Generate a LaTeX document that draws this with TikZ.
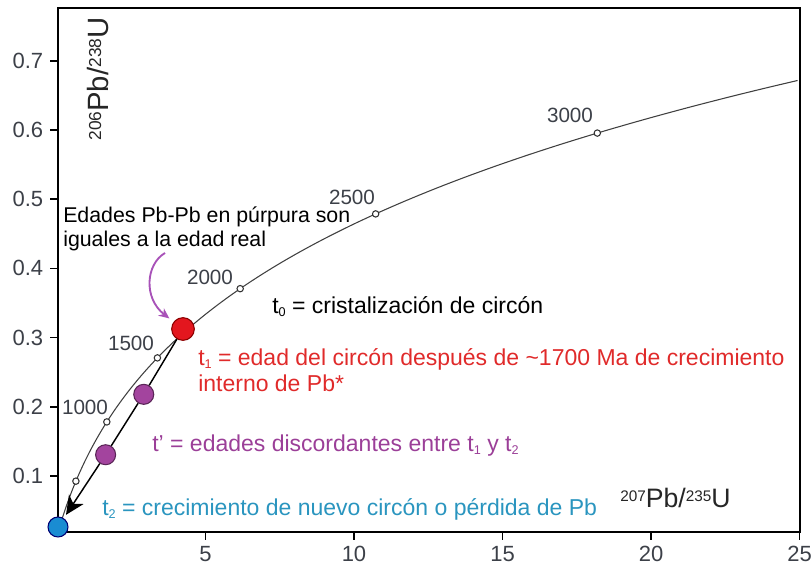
\documentclass[tikz,border=0pt]{standalone}
\usepackage{fontspec}
\setmainfont{Liberation Sans}
\usetikzlibrary{arrows.meta,calc}
\definecolor{tred}{HTML}{E02A2A}
\definecolor{tpurple}{HTML}{9B3F98}
\definecolor{tblue}{HTML}{2A95BF}
\definecolor{dotred}{HTML}{E3161E}
\definecolor{dotpurple}{HTML}{A3449E}
\definecolor{dotblue}{HTML}{1A8CD2}
\definecolor{arrpurple}{HTML}{A852B8}
\definecolor{labgray}{HTML}{3C4048}
\newcommand{\tsb}[1]{\raisebox{-2.2pt}{\fontsize{9.5}{9.5}\selectfont #1}}
\newcommand{\asup}[1]{\raisebox{4.8pt}{\fontsize{11.5}{11.5}\selectfont #1}}
\newcommand{\bsup}[1]{\raisebox{5.2pt}{\fontsize{13}{13}\selectfont #1}}
\begin{document}
\begin{tikzpicture}[x=0.75pt,y=-0.75pt,
  axis/.style={line width=1.3pt, black},
  concordia/.style={line width=0.8pt, black!75},
  agept/.style={circle, draw=black!80, fill=white, line width=0.8pt, inner sep=0pt, minimum size=4.8pt},
  dot/.style={circle, inner sep=0pt, line width=0.8pt},
  agelab/.style={text=labgray, font=\fontsize{15.5}{16}\selectfont, inner sep=0pt},
  ticklab/.style={text=labgray, font=\fontsize{16.5}{17}\selectfont, inner sep=0pt},
  ttext/.style={font=\fontsize{17.25}{19.5}\selectfont, inner sep=0pt, anchor=base west},
  axlab/.style={inner sep=0pt, text=black!85},
]
\useasboundingbox (0,0) rectangle (811,566);
% frame
\draw[axis] (58,8) rectangle (800,532);
% y ticks
\foreach \v in {1,...,7} {
  \coordinate (yt\v) at (58,{545.3-69.23*\v});
  \draw[axis] (yt\v) -- ++(-8,0) node[ticklab, anchor=east, xshift=-4.5pt] (ylab\v) {0.\v};
}
% x ticks
\foreach \v/\k in {5/1,10/2,15/3,20/4,25/5} {
  \coordinate (xt\k) at ({57+29.7*\v},532);
  \draw[axis] (xt\k) -- ++(0,8) node[ticklab, anchor=north, yshift=-3.75pt] (xlab\k) {\v};
}
% concordia
\draw[concordia] plot[domain=0:3.308, samples=150, smooth]
  ({57+29.7*(exp(0.98485*\x)-1)}, {536-680*(exp(0.155125*\x)-1)});
\foreach \t/\n in {0.5/a5,1/a10,1.5/a15,2/a20,2.5/a25,3/a30}
  \node[agept] (\n) at ({57+29.7*(exp(0.98485*\t)-1)}, {536-680*(exp(0.155125*\t)-1)}) {};
\node[agelab] (l10) at (85,407) {1000};
\node[agelab] (l15) at (131,343) {1500};
\node[agelab] (l20) at (210,277) {2000};
\node[agelab] (l25) at (352,197) {2500};
\node[agelab] (l30) at (570,115) {3000};
% dots
\node[dot, fill=dotred, draw=red!55!black, minimum size=17pt] (t1) at (183,329) {};
\node[dot, fill=dotblue, draw=blue!45!black, minimum size=15pt] (t2) at (58,527) {};
\node[dot, fill=dotpurple, draw=dotpurple!55!black, minimum size=15pt] (p1) at ($(t1)!0.33!(t2)+(2,0)$) {};
\node[dot, fill=dotpurple, draw=dotpurple!55!black, minimum size=15pt] (p2) at ($(t1)!0.635!(t2)+(2,0)$) {};
% discordia
\draw[line width=1.1pt] (t1) -- (p1);
\draw[line width=1.1pt] (p1) -- (p2);
\draw[line width=1.1pt, -{Stealth[length=14pt,width=13pt,inset=4pt]}, shorten >=3pt] (p2) -- (t2);
% texts
\node[ttext, font=\fontsize{16}{18}\selectfont] (ed1) at (63,223) {Edades Pb-Pb en púrpura son};
\node[ttext, font=\fontsize{16}{18}\selectfont] (ed2) at (63,247) {iguales a la edad real};
\coordinate (pa) at (165,253);
\draw[arrpurple, line width=1.4pt, -{Stealth[length=8pt,width=7pt]}, shorten >=4pt]
  (pa) .. controls (146,264) and (143,298) .. (t1);
\node[ttext] (tt0) at (272,314) {t\tsb{0} = cristalización de circón};
\node[ttext, text=tred] (tt1) at (198,366) {t\tsb{1} = edad del circón después de \textasciitilde1700 Ma de crecimiento};
\node[ttext, text=tred] (tt1b) at (198,392) {interno de Pb*};
\node[ttext, text=tpurple] (ttp) at (152,452) {t’ = edades discordantes entre t\tsb{1} y t\tsb{2}};
\node[ttext, text=tblue] (tt2) at (102,516) {t\tsb{2} = crecimiento de nuevo circón o pérdida de Pb};
% axis labels
\node[axlab, anchor=base west, font=\fontsize{20}{21}\selectfont] (xlab) at (620,508) {\asup{207}Pb/\asup{235}U};
\node[axlab, anchor=base, rotate=90, font=\fontsize{22}{23}\selectfont] (ylab) at (108,79) {\bsup{206}Pb/\bsup{238}U};
\end{tikzpicture}
\end{document}
